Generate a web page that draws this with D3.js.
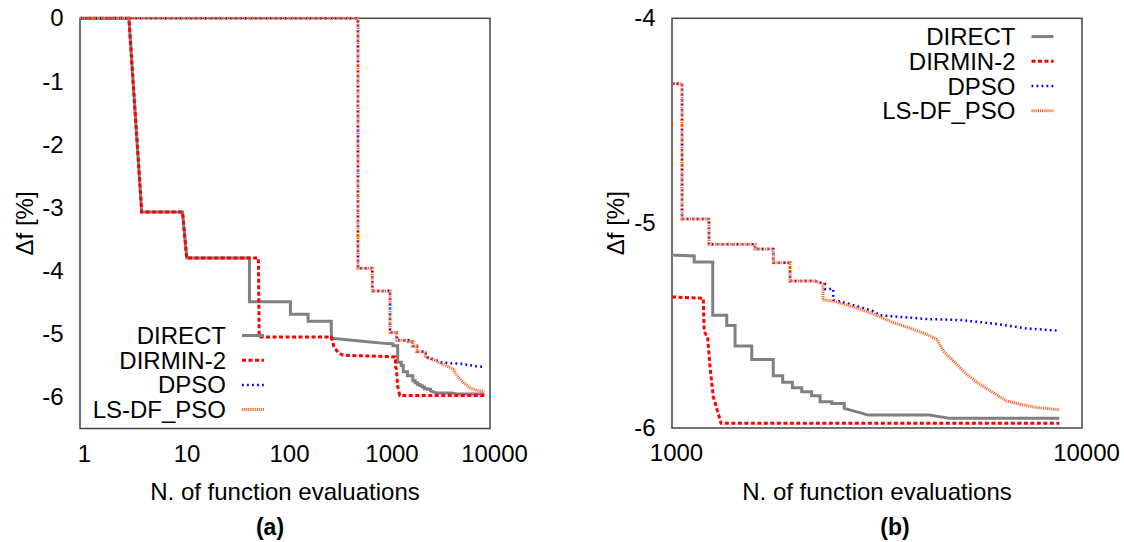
<!DOCTYPE html>
<html><head><meta charset="utf-8">
<script src="https://cdn.jsdelivr.net/npm/d3@7"></script>
<style>
body{margin:0;background:#fff}
text{font-family:"Liberation Sans",Arial,Helvetica,sans-serif;fill:#000}
</style>
</head><body>
<svg id="c" width="1124" height="542"></svg>
<script>
// ---------- data ----------
const seriesNames = ["DIRECT", "DIRMIN-2", "DPSO", "LS-DF_PSO"];

const directPts = [[1,0],[3,0],[4,-3.07],[10,-3.07],[11,-3.8],[45,-3.8],[45,-4.49],[113,-4.49],[113,-4.69],
  [168,-4.69],[168,-4.8],[283,-4.8],[283,-5.07],[600,-5.12],[1000,-5.155],[1133,-5.16],[1133,-5.19],
  [1257,-5.19],[1257,-5.45],[1360,-5.45],[1360,-5.50],[1425,-5.50],[1425,-5.60],[1565,-5.60],[1565,-5.665],
  [1766,-5.665],[1766,-5.745],[1862,-5.745],[1862,-5.777],[1966,-5.777],[1966,-5.803],[2072,-5.803],
  [2072,-5.823],[2191,-5.823],[2191,-5.842],[2297,-5.842],[2297,-5.872],[2454,-5.872],[2454,-5.88],
  [2631,-5.88],[2631,-5.904],[3012,-5.937],[4245,-5.937],[4762,-5.953],[8806,-5.953]];

const dirminPts = [[1,0],[3,0],[4,-3.07],[10,-3.07],[11,-3.8],[55,-3.8],[56,-5.05],[283,-5.05],[300,-5.2],
  [330,-5.3],[370,-5.34],[1000,-5.36],[1192,-5.367],[1198,-5.53],[1221,-5.554],[1238,-5.70],[1261,-5.847],
  [1317,-5.977],[8806,-5.977]];

const dpsoPts = [[1,0],[515,0],[515,-3.96],[711,-3.96],[711,-4.32],[1058,-4.32],[1058,-4.98],[1231,-4.98],
  [1231,-5.103],[1594,-5.103],[1594,-5.126],[1766,-5.126],[1766,-5.193],[1940,-5.193],[1940,-5.283],
  [2232,-5.283],[2360,-5.296],[2360,-5.321],[2474,-5.321],[2474,-5.375],[2667,-5.39],[2876,-5.41],
  [3097,-5.43],[3217,-5.45],[3737,-5.46],[4180,-5.468],[5036,-5.473],[6076,-5.49],[7332,-5.514],[8806,-5.525]];

const lsdfPts = [[1,0],[515,0],[515,-3.96],[711,-3.96],[711,-4.32],[1058,-4.32],[1058,-4.98],[1231,-4.98],
  [1231,-5.103],[1594,-5.103],[1594,-5.126],[1766,-5.126],[1766,-5.193],[1940,-5.193],[1940,-5.283],
  [2232,-5.283],[2336,-5.296],[2336,-5.375],[2474,-5.38],[2667,-5.40],[2876,-5.42],[3158,-5.45],
  [3462,-5.485],[3877,-5.518],[4180,-5.543],[4427,-5.567],[4592,-5.625],[4856,-5.673],[5234,-5.738],
  [5640,-5.787],[6076,-5.828],[6547,-5.868],[7054,-5.884],[7747,-5.90],[8806,-5.911]];

const leftXTicks = [1, 10, 100, 1000, 10000];
const leftYTicks = [0, -1, -2, -3, -4, -5, -6];
const rightXTicks = [1000, 10000];
const rightYTicks = [-4, -5, -6];

const xTitle = "N. of function evaluations";
const yTitle = "Δf [%]";
const panelLabels = ["(a)", "(b)"];

// ---------- styles ----------
const allSeries = [directPts, dirminPts, dpsoPts, lsdfPts];
const styles = [
  {color: "#808080", width: 3, dash: null},
  {color: "#ff0000", width: 3, dash: "4,2.5"},
  {color: "#0000ff", width: 2.5, dash: "1.8,3.2"},
  {color: "#ff6a30", width: 3, dash: "1.2,0.9"}
];

const svg = d3.select("#c");

function panel(cfg, idx) {
  const x = d3.scaleLog().domain(cfg.xDomain).range([cfg.left, cfg.right]);
  const y = d3.scaleLinear().domain(cfg.yDomain).range([cfg.bottom, cfg.top]);
  const g = svg.append("g");

  const clipId = "clip" + idx;
  g.append("clipPath").attr("id", clipId).append("rect")
    .attr("x", cfg.left).attr("y", cfg.top - 2)
    .attr("width", cfg.right - cfg.left).attr("height", cfg.bottom - cfg.top + 4);

  // frame
  g.append("rect").attr("x", cfg.left).attr("y", cfg.top)
    .attr("width", cfg.right - cfg.left).attr("height", cfg.bottom - cfg.top)
    .attr("fill", "none").attr("stroke", "#444").attr("stroke-width", 1.5);

  const line = d3.line().x(d => x(d[0])).y(d => y(d[1]));
  const lines = g.append("g").attr("clip-path", `url(#${clipId})`);
  allSeries.forEach((pts, i) => {
    const s = styles[i];
    lines.append("path").datum(pts).attr("d", line)
      .attr("fill", "none").attr("stroke", s.color).attr("stroke-width", s.width)
      .attr("stroke-dasharray", s.dash).attr("stroke-linejoin", "miter");
  });

  // axes
  const xa = g.append("g").attr("transform", `translate(0,${cfg.bottom})`)
    .call(d3.axisBottom(x).tickValues(cfg.xTicks).tickSize(0).tickPadding(16).tickFormat(d => String(d)));
  xa.select(".domain").remove();
  xa.selectAll("text").attr("font-size", 24).attr("dx", 4)
    .style("font-family", '"Liberation Sans",Arial,sans-serif').attr("fill", "#000");

  const ya = g.append("g").attr("transform", `translate(${cfg.left},0)`)
    .call(d3.axisLeft(y).tickValues(cfg.yTicks).tickSize(0).tickPadding(16.5).tickFormat(d => String(d)));
  ya.select(".domain").remove();
  ya.selectAll("text").attr("font-size", 24)
    .style("font-family", '"Liberation Sans",Arial,sans-serif').attr("fill", "#000");

  // titles
  g.append("text").attr("x", (cfg.left + cfg.right) / 2).attr("y", 499.5)
    .attr("text-anchor", "middle").attr("font-size", 24).text(xTitle);
  g.append("text").attr("transform", `translate(${cfg.yTitleX},${(cfg.top + cfg.bottom) / 2}) rotate(-90)`)
    .attr("text-anchor", "middle").attr("font-size", 24).text(yTitle);
  g.append("text").attr("x", cfg.labelX).attr("y", 534.5)
    .attr("text-anchor", "middle").attr("font-size", 23).attr("font-weight", "bold").text(panelLabels[idx]);

  // legend
  const lg = g.append("g");
  seriesNames.forEach((name, i) => {
    const cy = cfg.legY + i * 24.7;
    lg.append("text").attr("x", cfg.legTextX).attr("y", cy + 8.5)
      .attr("text-anchor", "end").attr("font-size", 24).text(name);
    const s = styles[i];
    lg.append("line").attr("x1", cfg.legTextX + 16).attr("x2", cfg.legTextX + 38)
      .attr("y1", cy).attr("y2", cy)
      .attr("stroke", s.color).attr("stroke-width", s.width).attr("stroke-dasharray", s.dash);
  });
}

panel({xDomain: [1, 10000], yDomain: [-6.5, 0], left: 80, right: 490, top: 18.3, bottom: 428.5,
  xTicks: leftXTicks, yTicks: leftYTicks, yTitleX: 33, labelX: 270,
  legTextX: 226, legY: 335.5}, 0);

panel({xDomain: [1000, 10000], yDomain: [-6, -4], left: 672, right: 1082, top: 18.3, bottom: 428,
  xTicks: rightXTicks, yTicks: rightYTicks, yTitleX: 623.5, labelX: 895,
  legTextX: 1015.5, legY: 36.6}, 1);
</script>
</body></html>
